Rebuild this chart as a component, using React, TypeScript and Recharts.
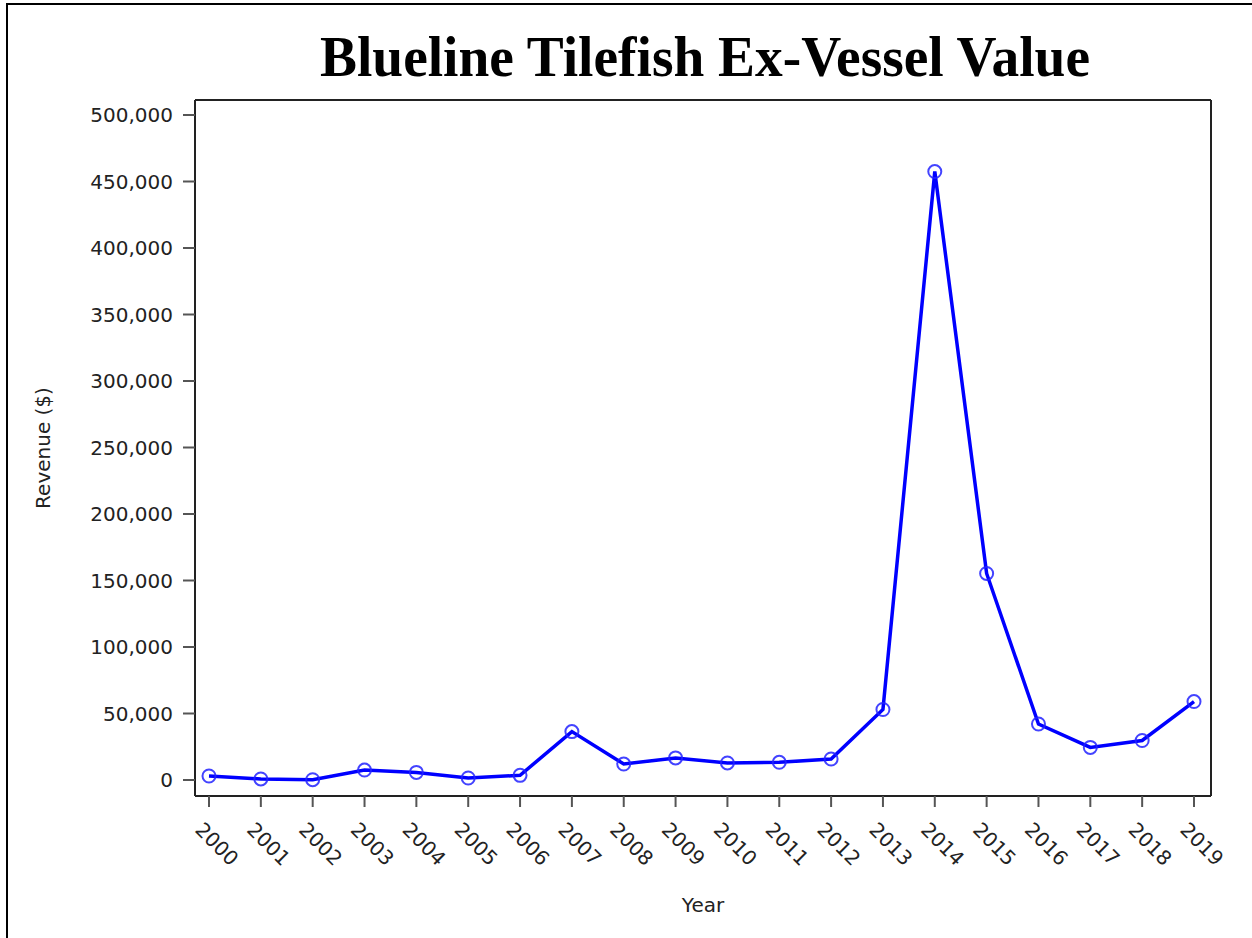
import { LineChart, Line, XAxis, YAxis } from 'recharts';

const years = ['2000', '2001', '2002', '2003', '2004', '2005', '2006', '2007', '2008', '2009',
  '2010', '2011', '2012', '2013', '2014', '2015', '2016', '2017', '2018', '2019'];
const revenue = [3000, 800, 200, 7500, 5700, 1500, 3500, 36400, 12000, 16600,
  12800, 13300, 15800, 53000, 457500, 155300, 42100, 24500, 29700, 59000];
const yTicks = [0, 50000, 100000, 150000, 200000, 250000, 300000, 350000, 400000, 450000, 500000];

const rows = years.map((y, i) => ({ year: y, revenue: revenue[i] }));

const TXT = '#222';
const AXIS = '#222';
const SANS = '"DejaVu Sans", sans-serif';

function XTick({ x, y, payload }: any) {
  const ax = x - 15;
  const ay = y + 22;
  return (
    <text x={ax} y={ay} transform={`rotate(45, ${ax}, ${ay})`} fill={TXT} fontSize={20} fontFamily={SANS}>
      {payload.value}
    </text>
  );
}

export default function App() {
  return (
    <div style={{ position: 'absolute', left: 0, top: 0, width: 1252, height: 938, background: '#fff', overflow: 'hidden' }}>
      <div style={{ position: 'absolute', left: 6, top: 3, right: 0, bottom: 0, borderTop: '2px solid #000', borderLeft: '2px solid #000' }} />
      <svg width={1252} height={100} style={{ position: 'absolute', left: 0, top: 0 }}>
        <text x={320} y={76} textLength={770} lengthAdjust="spacingAndGlyphs"
          fontFamily='"Liberation Serif", "Times New Roman", serif' fontWeight="bold" fontSize={56} fill="#000">
          Blueline Tilefish Ex-Vessel Value
        </text>
      </svg>
      <div style={{ position: 'absolute', left: 0, top: 0 }}>
        <LineChart width={1252} height={938} data={rows} margin={{ top: 99, right: 40, left: 0, bottom: 0 }}>
          <XAxis xAxisId="b" dataKey="year" height={142} padding={{ left: 14, right: 17 }}
            axisLine={{ stroke: AXIS, strokeWidth: 2 }} tickLine={{ stroke: '#555', strokeWidth: 2 }}
            tickSize={11} tickMargin={2} interval={0} tick={<XTick />}
            label={{
              content: ({ viewBox }: any) => (
                <text x={viewBox.x + viewBox.width / 2} y={viewBox.y + 116} textAnchor="middle" fill={TXT} fontSize={20} fontFamily={SANS}>Year</text>
              ),
            }} />
          <XAxis xAxisId="t" dataKey="year" orientation="top" height={1} tick={false} tickLine={false}
            padding={{ left: 14, right: 17 }} axisLine={{ stroke: AXIS, strokeWidth: 2 }} />
          <YAxis yAxisId="l" width={195} domain={[0, 500000]} ticks={yTicks} interval={0}
            padding={{ top: 15, bottom: 16 }}
            tickFormatter={(v: number) => v.toLocaleString('en-US')}
            axisLine={{ stroke: AXIS, strokeWidth: 2 }} tickLine={{ stroke: '#555', strokeWidth: 2 }}
            tickSize={12} tickMargin={10}
            tick={{ fill: TXT, fontSize: 20, fontFamily: SANS }}
            label={{
              content: ({ viewBox }: any) => {
                const cx = 43;
                const cy = viewBox.y + viewBox.height / 2;
                return (
                  <text x={cx} y={cy} transform={`rotate(-90, ${cx}, ${cy})`} textAnchor="middle" dominantBaseline="central" fill={TXT} fontSize={20} fontFamily={SANS}>Revenue ($)</text>
                );
              },
            }} />
          <YAxis yAxisId="r" orientation="right" width={1} domain={[0, 500000]} tick={false} tickLine={false}
            padding={{ top: 15, bottom: 16 }} axisLine={{ stroke: AXIS, strokeWidth: 2 }} />
          <Line xAxisId="b" yAxisId="l" type="linear" dataKey="revenue" stroke="#0000ff" strokeWidth={3.5}
            dot={{ r: 6.5, fill: 'none', stroke: '#2222ff', strokeWidth: 2, strokeOpacity: 0.85 }}
            isAnimationActive={false} />
        </LineChart>
      </div>
    </div>
  );
}
